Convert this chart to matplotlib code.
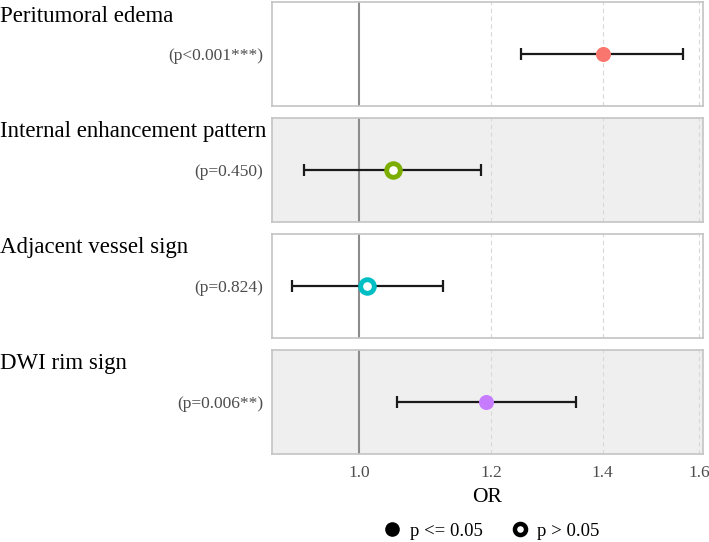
import matplotlib.pyplot as plt
from matplotlib.lines import Line2D

plt.rcParams['font.family'] = ['Liberation Serif', 'DejaVu Serif']

labels = ['Peritumoral edema', 'Internal enhancement pattern', 'Adjacent vessel sign', 'DWI rim sign']
p_text = ['(p<0.001***)', '(p=0.450)', '(p=0.824)', '(p=0.006**)']
odds = [1.40, 1.048, 1.011, 1.192]
ci_low = [1.251, 0.927, 0.912, 1.054]
ci_high = [1.564, 1.184, 1.123, 1.349]
significant = [True, False, False, True]
colors = ['#F8766D', '#7CAE00', '#00BFC4', '#C77CFF']
ticks = [1.0, 1.2, 1.4, 1.6]

W, H = 709, 542
fig = plt.figure(figsize=(W / 100, H / 100), dpi=100)

left, right = 272, 703
tops = [2, 118, 234, 350]
ph = 104
bgs = ['white', '#EFEFEF', 'white', '#EFEFEF']

for i in range(4):
    ax = fig.add_axes([left / W, 1 - (tops[i] + ph) / H, (right - left) / W, ph / H])
    ax.set_facecolor(bgs[i])
    ax.set_xscale('log')
    ax.set_xlim(0.887, 1.608)
    ax.set_ylim(-1, 1)
    for t in ticks[1:]:
        ax.axvline(t, color='#d9d9d9', lw=0.8, ls=(0, (4, 3)), zorder=1)
    ax.axvline(1.0, color='#8c8c8c', lw=1.5, zorder=2)
    ax.errorbar([odds[i]], [0], xerr=[[odds[i] - ci_low[i]], [ci_high[i] - odds[i]]],
                fmt='none', ecolor='#1a1a1a', elinewidth=1.6, capsize=4, capthick=1.6, zorder=3)
    if significant[i]:
        ax.plot(odds[i], 0, 'o', color=colors[i], markersize=9.8, mec=colors[i], zorder=4)
    else:
        ax.plot(odds[i], 0, 'o', mfc='white', mec=colors[i], markersize=9.8, mew=3.5, zorder=4)
    for s in ax.spines.values():
        s.set_color('#c4c4c4')
        s.set_linewidth(1.2)
    ax.set_yticks([])
    ax.minorticks_off()
    ax.set_xticks(ticks)
    ax.tick_params(axis='x', length=0, labelsize=12.5, labelcolor='#4d4d4d', pad=8)
    if i < 3:
        ax.set_xticklabels([])
    else:
        ax.set_xticklabels(['%.1f' % t for t in ticks])
        ax.set_xlabel('OR', fontsize=15.5, labelpad=5)
    fig.text(0, 1 - (tops[i] + 14) / H, labels[i], fontsize=16.5, ha='left', va='center')
    fig.text(263 / W, 1 - (tops[i] + 54) / H, p_text[i], fontsize=12.5, color='#4d4d4d',
             ha='right', va='center')

handles = [Line2D([], [], marker='o', ls='none', color='black', markersize=9.5),
           Line2D([], [], marker='o', ls='none', mfc='white', mec='black', markersize=8, mew=3.2)]
fig.legend(handles, ['p <= 0.05', 'p > 0.05'], loc='center', bbox_to_anchor=(489 / W, 1 - 531 / H),
           ncol=2, frameon=False, fontsize=13.5, handletextpad=0.2, columnspacing=1.2,
           handlelength=1.5)

fig.savefig('out.png', dpi=100)
